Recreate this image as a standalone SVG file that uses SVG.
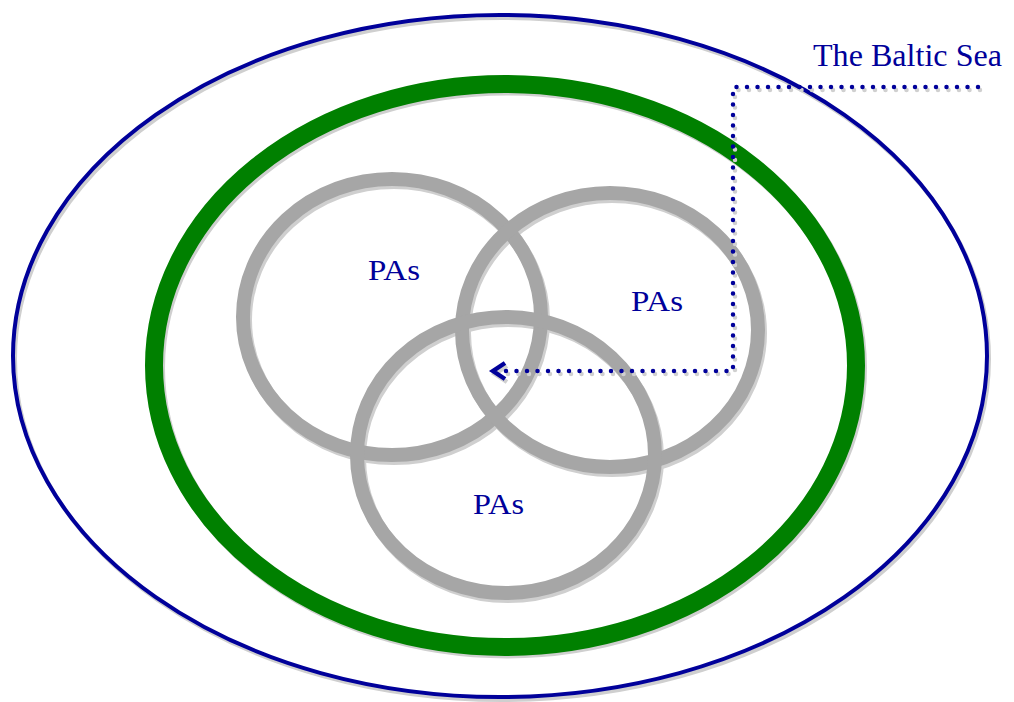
<svg xmlns="http://www.w3.org/2000/svg" width="1014" height="702" viewBox="0 0 1014 702">
<style>
.sh{fill:none;stroke:#cfcfcf}
.blue{fill:none;stroke:#00009a;stroke-width:4}
.green{fill:none;stroke:#008000;stroke-width:18}
.grey{fill:none;stroke:#a6a6a6;stroke-width:14}
.lbl{font-family:"Liberation Serif",serif;fill:#00009a}
.dot{fill:none;stroke:#00009a;stroke-width:4.5;stroke-linecap:round;stroke-dasharray:0 10.5}
.dotsh{fill:none;stroke:#d0d0d0;stroke-width:4.5;stroke-linecap:round;stroke-dasharray:0 10.5}
</style>
<rect width="1014" height="702" fill="#fff"/>
<g id="sea">
<ellipse class="sh" cx="502" cy="359" rx="487" ry="341" stroke-width="4"/>
<ellipse class="blue" cx="500" cy="356" rx="487" ry="341"/>
</g>
<g id="region">
<ellipse class="sh" cx="507" cy="368" rx="351" ry="281.5" stroke-width="18"/>
<ellipse class="green" cx="505" cy="365.5" rx="351" ry="281.5"/>
</g>
<g id="pa1">
<ellipse class="sh" cx="394" cy="320" rx="149" ry="138" stroke-width="14"/>
</g>
<g id="pa2">
<ellipse class="sh" cx="612" cy="333" rx="148" ry="137" stroke-width="14"/>
</g>
<g id="pa3">
<ellipse class="sh" cx="508" cy="458" rx="149" ry="138" stroke-width="14"/>
</g>
<g id="pa-rings">
<ellipse class="grey" cx="392" cy="317" rx="149" ry="138"/>
<ellipse class="grey" cx="610" cy="330" rx="148" ry="137"/>
<ellipse class="grey" cx="506" cy="455" rx="149" ry="138"/>
</g>
<g id="connectors">
<polyline class="dotsh" points="980,90 735,90 735,374 504,374"/>
<path d="M507,366 L495,374 L507,382" fill="none" stroke="#d0d0d0" stroke-width="4.5"/>
<polyline class="dot" points="978,87 733,87 733,371 502,371"/>
<path d="M505,363 L493,371 L505,379" fill="none" stroke="#00009a" stroke-width="4.5"/>
</g>
<g id="labels">
<text class="lbl" x="813" y="66" font-size="32" textLength="189" lengthAdjust="spacingAndGlyphs">The Baltic Sea</text>
<text class="lbl" x="368" y="280" font-size="29" textLength="52" lengthAdjust="spacingAndGlyphs">PAs</text>
<text class="lbl" x="631" y="311" font-size="29" textLength="52" lengthAdjust="spacingAndGlyphs">PAs</text>
<text class="lbl" x="473" y="514" font-size="29" textLength="51" lengthAdjust="spacingAndGlyphs">PAs</text>
</g>
</svg>
